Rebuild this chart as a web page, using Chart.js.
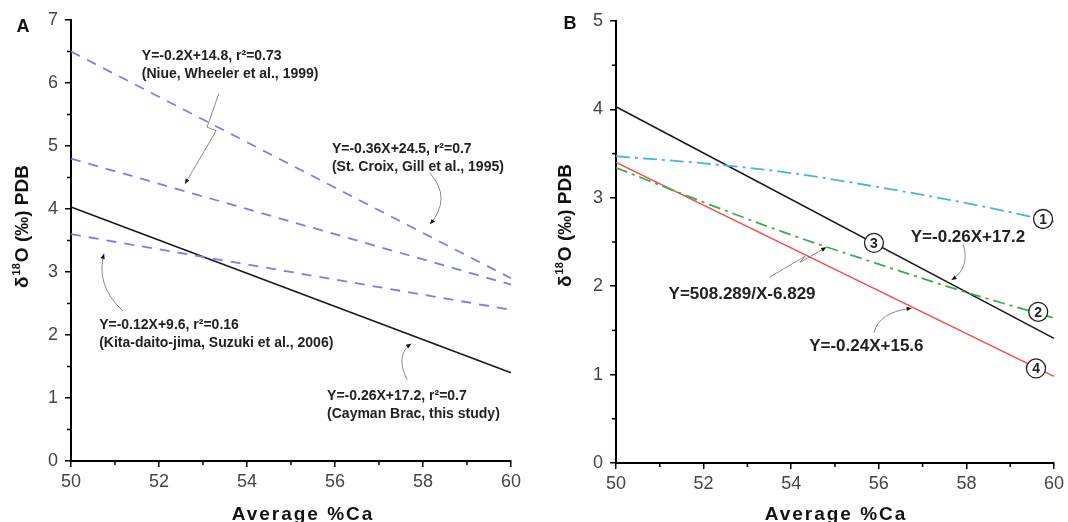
<!DOCTYPE html>
<html>
<head>
<meta charset="utf-8">
<script src="https://cdn.jsdelivr.net/npm/chart.js@4.4.1/dist/chart.umd.min.js"></script>
<style>
  body { margin: 0; background: #fff; }
  .wrap { position: relative; width: 1068px; height: 522px; }
  canvas { position: absolute; top: 0; }
  #chartA { left: 0; }
  #chartB { left: 534px; }
</style>
</head>
<body>
<div class="wrap">
  <canvas id="chartA" width="534" height="522"></canvas>
  <canvas id="chartB" width="534" height="522"></canvas>
</div>
<script>
// panel A - regression lines, end points at 50 and 60 %Ca
const xEnds = [50, 60];
const stCroix = [6.5, 2.9];
const niue = [4.8, 2.8];
const kitaDaito = [3.6, 2.4];
const caymanBrac = [4.03, 1.4];

// panel B - two curves and two lines
const xCurve = [50, 52, 54, 56, 58, 60, 60.2];
const curve1 = [3.47, 3.39, 3.28, 3.12, 2.94, 2.73, 2.71];
const curve2 = [3.34, 2.95, 2.58, 2.25, 1.93, 1.64, 1.61];
const line3 = [4.03, 1.41];
const line4 = [3.4, 0.98];

// tick labels
const xTicks = [50, 52, 54, 56, 58, 60];
const yTicksA = [0, 1, 2, 3, 4, 5, 6, 7];
const yTicksB = [0, 1, 2, 3, 4, 5];

const toPoints = (xs, ys) => xs.map((x, i) => ({ x: x, y: ys[i] }));

const BOLD = "'Liberation Sans', Arial, sans-serif";

const notesPlugin = {
  id: "notes",
  afterDraw(chart) {
    const o = chart.options.plugins.notes;
    const { ctx, chartArea } = chart;
    const xs = chart.scales.x, ys = chart.scales.y;
    const px = (v) => xs.getPixelForValue(v);
    const py = (v) => ys.getPixelForValue(v);
    ctx.save();

    // minor ticks
    ctx.strokeStyle = "#000";
    ctx.lineWidth = 1.5;
    for (let i = 0; i < (ys.max - ys.min) * 2; i += 2) {
      const yy = py(ys.min + (i + 1) / 2);
      ctx.beginPath();
      ctx.moveTo(chartArea.left - 4, yy);
      ctx.lineTo(chartArea.left, yy);
      ctx.stroke();
    }
    for (let v = xs.min + 1; v < xs.max; v += 2) {
      const xx = px(v);
      ctx.beginPath();
      ctx.moveTo(xx, chartArea.bottom);
      ctx.lineTo(xx, chartArea.bottom + 4);
      ctx.stroke();
    }

    // arrows
    o.arrows.forEach((a) => {
      const p = a.pts.map((q) => [px(q[0]), py(q[1])]);
      ctx.strokeStyle = "#8a8a8a";
      ctx.lineWidth = 1;
      ctx.beginPath();
      ctx.moveTo(p[0][0], p[0][1]);
      if (a.curve) {
        ctx.quadraticCurveTo(p[1][0], p[1][1], p[2][0], p[2][1]);
      } else {
        for (let i = 1; i < p.length; i++) ctx.lineTo(p[i][0], p[i][1]);
      }
      ctx.stroke();
      const e = p[p.length - 1], s = p[p.length - 2];
      const ang = Math.atan2(e[1] - s[1], e[0] - s[0]);
      ctx.fillStyle = "#111";
      ctx.beginPath();
      ctx.moveTo(e[0], e[1]);
      ctx.lineTo(e[0] - 5 * Math.cos(ang) + 2.2 * Math.sin(ang), e[1] - 5 * Math.sin(ang) - 2.2 * Math.cos(ang));
      ctx.lineTo(e[0] - 5 * Math.cos(ang) - 2.2 * Math.sin(ang), e[1] - 5 * Math.sin(ang) + 2.2 * Math.cos(ang));
      ctx.closePath();
      ctx.fill();
    });

    // annotation texts
    ctx.fillStyle = "#222";
    ctx.textAlign = "left";
    ctx.textBaseline = "middle";
    o.texts.forEach((t) => {
      ctx.font = "bold " + t.size + "px " + BOLD;
      t.lines.forEach((line, i) => {
        ctx.fillText(line, px(t.x), py(t.y) + i * t.gap);
      });
    });

    // circled numbers
    (o.circles || []).forEach((c) => {
      const cx = px(c.x), cy = py(c.y);
      ctx.beginPath();
      ctx.arc(cx, cy, 9.5, 0, Math.PI * 2);
      ctx.fillStyle = "#fff";
      ctx.fill();
      ctx.strokeStyle = "#222";
      ctx.lineWidth = 1.3;
      ctx.stroke();
      ctx.fillStyle = "#222";
      ctx.font = "bold 14px " + BOLD;
      ctx.textAlign = "center";
      ctx.fillText(c.label, cx, cy + 1);
    });

    // panel letter
    ctx.fillStyle = "#111";
    ctx.font = "bold 18px " + BOLD;
    ctx.textAlign = "center";
    ctx.fillText(o.letter, o.letterPos[0], o.letterPos[1]);

    // x axis title
    ctx.font = "bold 19px " + BOLD;
    ctx.letterSpacing = "2px";
    ctx.textBaseline = "alphabetic";
    ctx.fillText("Average %Ca", o.xTitlePos[0], o.xTitlePos[1]);
    ctx.letterSpacing = "0px";

    // y axis title with superscript 18
    ctx.translate(o.yTitlePos[0], o.yTitlePos[1]);
    ctx.rotate(-Math.PI / 2);
    ctx.textAlign = "left";
    ctx.textBaseline = "middle";
    const big = "bold 19px " + BOLD, small = "bold 11px " + BOLD;
    const parts = [["δ", big, 0], ["18", small, -6], ["O (‰) PDB", big, 0]];
    let total = 0;
    parts.forEach((pt) => { ctx.font = pt[1]; total += ctx.measureText(pt[0]).width + 1; });
    let cur = -total / 2;
    parts.forEach((pt) => {
      ctx.font = pt[1];
      ctx.fillText(pt[0], cur, pt[2]);
      cur += ctx.measureText(pt[0]).width + 1;
    });
    ctx.restore();
  },
};

function makeScales(yMax, yTickVals, yWidth, xHeight) {
  const axisFont = { family: "'Liberation Sans', Arial, sans-serif", size: 18 };
  return {
    x: {
      type: "linear",
      min: 50,
      max: 60,
      afterBuildTicks: (s) => { s.ticks = xTicks.map((v) => ({ value: v })); },
      afterFit: (s) => { s.height = xHeight; },
      ticks: { color: "#444", font: axisFont, padding: 4 },
      grid: { drawOnChartArea: false, drawTicks: true, tickLength: 6, color: "#000", lineWidth: 1.5 },
      border: { display: true, color: "#000", width: 2 },
    },
    y: {
      type: "linear",
      min: 0,
      max: yMax,
      afterBuildTicks: (s) => { s.ticks = yTickVals.map((v) => ({ value: v })); },
      afterFit: (s) => { s.width = yWidth; },
      ticks: { color: "#444", font: axisFont, padding: 7 },
      grid: { drawOnChartArea: false, drawTicks: true, tickLength: 6, color: "#000", lineWidth: 1.5 },
      border: { display: true, color: "#000", width: 2 },
    },
  };
}

const lineStyle = (data, color, width, dash, curved) => ({
  data: data,
  borderColor: color,
  borderWidth: width,
  borderDash: dash,
  pointRadius: 0,
  tension: curved ? 0.4 : 0,
  cubicInterpolationMode: curved ? "monotone" : "default",
  clip: false,
  fill: false,
});

new Chart(document.getElementById("chartA"), {
  type: "line",
  data: {
    datasets: [
      lineStyle(toPoints(xEnds, stCroix), "#7b7bf6", 1.8, [10, 8]),
      lineStyle(toPoints(xEnds, niue), "#7b7bf6", 1.8, [10, 8]),
      lineStyle(toPoints(xEnds, kitaDaito), "#7b7bf6", 1.8, [10, 8]),
      lineStyle(toPoints(xEnds, caymanBrac), "#1a1a1a", 1.6, []),
    ],
  },
  options: {
    responsive: false,
    animation: false,
    layout: { padding: { left: 0, right: 23, top: 20, bottom: 0 } },
    scales: makeScales(7, yTicksA, 71, 61),
    plugins: {
      legend: { display: false },
      tooltip: { enabled: false },
      notes: {
        letter: "A",
        letterPos: [23, 27],
        xTitlePos: [303, 520],
        yTitlePos: [23, 226],
        texts: [
          { x: 51.61, y: 6.42, size: 14, gap: 18, lines: ["Y=-0.2X+14.8, r²=0.73", "(Niue, Wheeler et al., 1999)"] },
          { x: 55.93, y: 4.95, size: 14, gap: 18, lines: ["Y=-0.36X+24.5, r²=0.7", "(St. Croix, Gill et al., 1995)"] },
          { x: 50.64, y: 2.15, size: 14, gap: 18, lines: ["Y=-0.12X+9.6, r²=0.16", "(Kita-daito-jima, Suzuki et al., 2006)"] },
          { x: 55.82, y: 1.03, size: 14, gap: 18, lines: ["Y=-0.26X+17.2, r²=0.7", "(Cayman Brac, this study)"] },
        ],
        arrows: [
          { pts: [[53.36, 5.83], [53.09, 5.3], [53.3, 5.24], [52.59, 4.4]] },
          { curve: true, pts: [[58.16, 4.57], [58.66, 4.17], [58.16, 3.76]] },
          { curve: true, pts: [[51.18, 2.38], [50.55, 2.79], [50.75, 3.29]] },
          { curve: true, pts: [[57.64, 1.29], [57.36, 1.68], [57.73, 1.86]] },
        ],
      },
    },
  },
  plugins: [notesPlugin],
});

new Chart(document.getElementById("chartB"), {
  type: "line",
  data: {
    datasets: [
      lineStyle(toPoints(xCurve, curve1), "#46b4e8", 1.8, [14, 5, 3, 5], true),
      lineStyle(toPoints(xCurve, curve2), "#3daa55", 1.8, [12, 5, 3, 5], true),
      lineStyle(toPoints(xEnds, line3), "#1a1a1a", 1.6, []),
      lineStyle(toPoints(xEnds, line4), "#f24a4a", 1.5, []),
    ],
  },
  options: {
    responsive: false,
    animation: false,
    layout: { padding: { left: 0, right: 12, top: 21, bottom: 0 } },
    scales: makeScales(5, yTicksB, 82, 59),
    plugins: {
      legend: { display: false },
      tooltip: { enabled: false },
      notes: {
        letter: "B",
        letterPos: [36, 24],
        xTitlePos: [302, 520],
        yTitlePos: [32, 225],
        texts: [
          { x: 56.73, y: 2.55, size: 17, gap: 0, lines: ["Y=-0.26X+17.2"] },
          { x: 51.2, y: 1.91, size: 17, gap: 0, lines: ["Y=508.289/X-6.829"] },
          { x: 54.41, y: 1.32, size: 17, gap: 0, lines: ["Y=-0.24X+15.6"] },
        ],
        arrows: [
          { curve: true, pts: [[57.93, 2.47], [58.09, 2.21], [57.66, 2.07]] },
          { pts: [[53.5, 2.1], [54.32, 2.34], [54.2, 2.27], [54.8, 2.44]] },
          { curve: true, pts: [[55.89, 1.47], [56.0, 1.71], [56.75, 1.75]] },
        ],
        circles: [
          { x: 59.75, y: 2.76, label: "1" },
          { x: 59.64, y: 1.71, label: "2" },
          { x: 55.89, y: 2.49, label: "3" },
          { x: 59.59, y: 1.07, label: "4" },
        ],
      },
    },
  },
  plugins: [notesPlugin],
});
</script>
</body>
</html>
